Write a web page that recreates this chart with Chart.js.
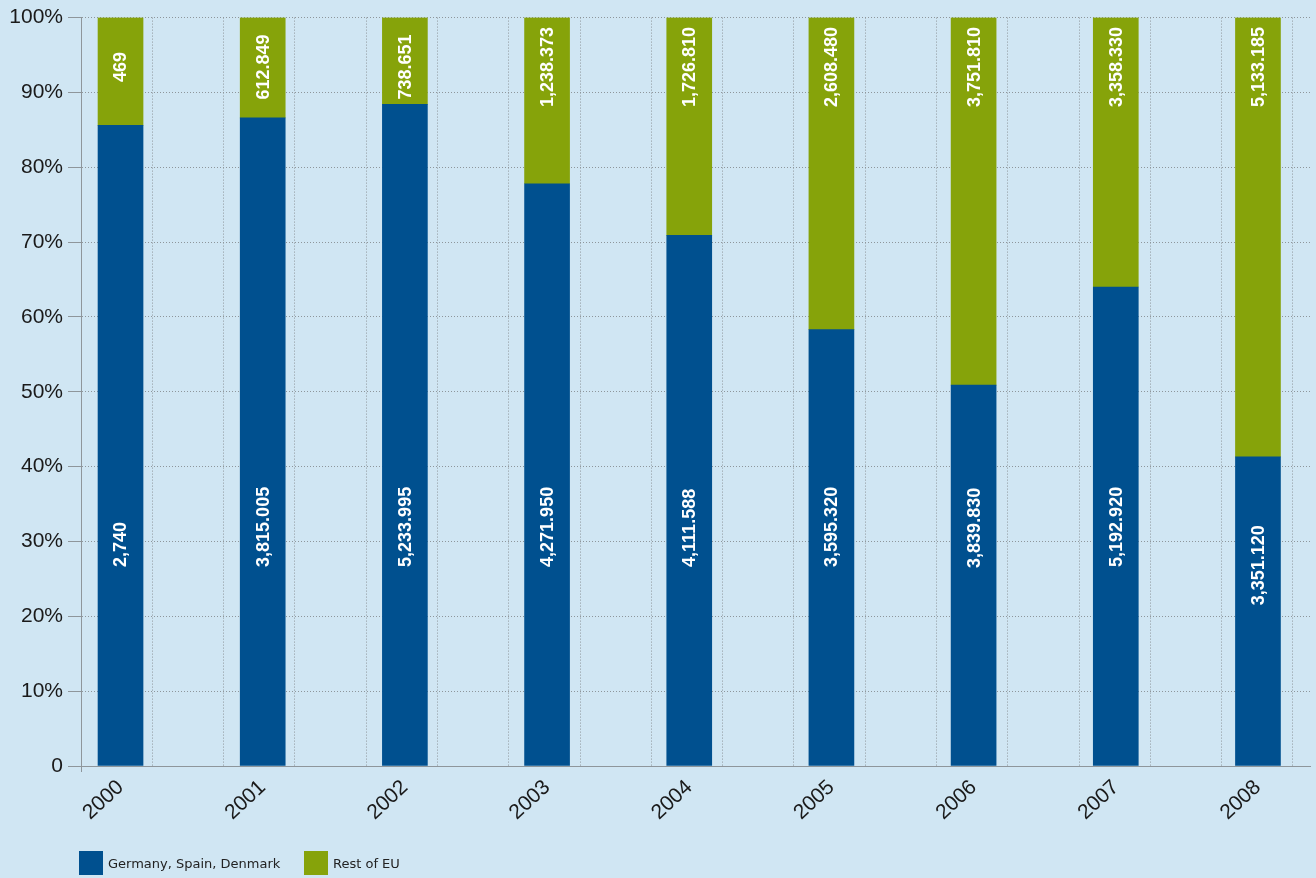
<!DOCTYPE html>
<html>
<head>
<meta charset="utf-8">
<script src="https://cdn.jsdelivr.net/npm/chart.js@4/dist/chart.umd.min.js"></script>
<style>
  html, body { margin: 0; padding: 0; background: #d0e6f3; }
  #wrap { position: relative; width: 1316px; height: 878px; }
  .item { position: absolute; top: 851px; height: 24px; display: flex; align-items: center;
          font: 13px "DejaVu Sans", sans-serif; color: #222; }
  .sw { width: 24px; height: 24px; margin-right: 5px; }
</style>
</head>
<body>
<div id="wrap">
  <canvas id="chart" width="1316" height="878"></canvas>
  <div class="item" style="left:79px"><span class="sw" style="background:#00508f"></span>Germany, Spain, Denmark</div>
  <div class="item" style="left:304px"><span class="sw" style="background:#86a30a"></span>Rest of EU</div>
</div>
<script>
// values
const years = [2000, 2001, 2002, 2003, 2004, 2005, 2006, 2007, 2008];
const blueShare = [85.6, 86.6, 88.4, 77.8, 70.9, 58.3, 50.9, 64.0, 41.3];
const greenShare = [14.4, 13.4, 11.6, 22.2, 29.1, 41.7, 49.1, 36.0, 58.7];
const blueLabels = ['2,740', '3,815.005', '5,233.995', '4,271.950', '4,111.588', '3,595.320', '3,839.830', '5,192.920', '3,351.120'];
const greenLabels = ['469', '612.849', '738.651', '1,238.373', '1,726.810', '2,608.480', '3,751.810', '3,358.330', '5,133.185'];

const BLUE = '#00508f';
const GREEN = '#86a30a';
const GRID = '#8e969b';
const X_MIN = 1999.722, X_MAX = 2008.366;
const GRID_STEP = 0.5014; // vertical dotted lines, two per year

function drawRotated(ctx, text, x, y, align) {
    ctx.save();
    ctx.translate(x, y);
    ctx.rotate(-Math.PI / 2);
    ctx.textAlign = align;
    ctx.fillText(text, 0, 1);
    ctx.restore();
}

// white rotated value labels inside the bars
const barLabels = {
    id: 'barLabels',
    afterDatasetsDraw(chart) {
        const ctx = chart.ctx, y = chart.scales.y;
        ctx.save();
        ctx.fillStyle = '#fff';
        ctx.font = 'bold 18px "Liberation Sans", Arial, sans-serif';
        ctx.textBaseline = 'middle';
        chart.getDatasetMeta(0).data.forEach((bar, i) => {
            drawRotated(ctx, blueLabels[i], bar.x, y.getPixelForValue(Math.min(26.6, blueShare[i] * 0.52)), 'left');
        });
        chart.getDatasetMeta(1).data.forEach((bar, i) => {
            drawRotated(ctx, greenLabels[i], bar.x, y.getPixelForValue(93.4), 'center');
        });
        ctx.restore();
    }
};

new Chart(document.getElementById('chart').getContext('2d'), {
    type: 'bar',
    data: {
        datasets: [
            {
                label: 'Germany, Spain, Denmark',
                data: years.map((yr, i) => ({ x: yr, y: blueShare[i] })),
                backgroundColor: BLUE
            },
            {
                label: 'Rest of EU',
                data: years.map((yr, i) => ({ x: yr, y: greenShare[i] })),
                backgroundColor: GREEN
            }
        ]
    },
    options: {
        responsive: false,
        animation: false,
        barThickness: 45,
        layout: { padding: { top: 17, right: 6, left: 0, bottom: 0 } },
        plugins: { legend: { display: false }, tooltip: { enabled: false } },
        scales: {
            x: {
                type: 'linear',
                stacked: true,
                offset: false,
                bounds: 'data',
                min: X_MIN,
                max: X_MAX,
                afterBuildTicks(scale) {
                    const ticks = years.map(v => ({ value: v }));
                    for (let k = 0; k < 18; k++) ticks.push({ value: X_MIN + GRID_STEP * k + 0.0001 });
                    ticks.sort((a, b) => a.value - b.value);
                    scale.ticks = ticks;
                },
                afterFit(scale) { scale.height = 112; },
                grid: {
                    offset: false,
                    color: c => (c.tick && Number.isInteger(c.tick.value)) ? 'rgba(0,0,0,0)' : GRID,
                    tickColor: c => (c.tick && c.tick.value < X_MIN + 0.01) ? GRID : 'rgba(0,0,0,0)',
                    lineWidth: 1,
                    tickLength: 6
                },
                border: { display: true, color: GRID, dash: [1, 2] },
                ticks: {
                    autoSkip: false,
                    minRotation: 43,
                    maxRotation: 43,
                    padding: 3,
                    color: '#1a1a1a',
                    font: { family: '"Liberation Sans", Arial, sans-serif', size: 21 },
                    callback: v => Number.isInteger(v) ? String(v) : ''
                }
            },
            y: {
                stacked: true,
                min: 0,
                max: 100,
                afterFit(scale) { scale.width = 81; },
                grid: { color: GRID, tickColor: GRID, tickLength: 13 },
                border: { display: true, color: GRID, dash: [1, 2] },
                ticks: {
                    stepSize: 10,
                    padding: 5,
                    color: '#1a1a1a',
                    font: { family: '"Liberation Sans", Arial, sans-serif', size: 21 },
                    callback: v => v === 0 ? '0' : v + '%'
                }
            }
        }
    },
    plugins: [barLabels]
});
</script>
</body>
</html>
